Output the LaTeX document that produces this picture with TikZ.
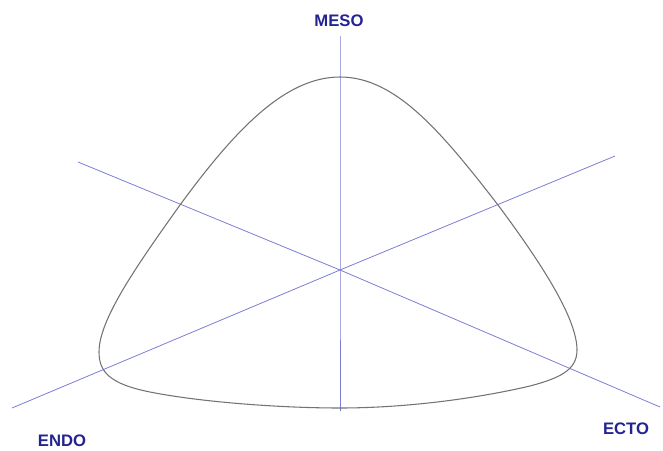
\documentclass[tikz,border=0pt]{standalone}
\usepackage{fontspec}
\setmainfont{Liberation Sans}
\usetikzlibrary{positioning}
\definecolor{axisblue}{RGB}{125,125,215}
\definecolor{labelblue}{RGB}{35,35,145}
\definecolor{curvegray}{RGB}{115,115,115}

\begin{document}
\begin{tikzpicture}[x=0.75pt, y=-0.75pt,
  axis/.style={draw=axisblue, line width=0.6pt},
  germ/.style={font=\fontsize{12.5}{15}\selectfont\bfseries, text=labelblue,
               inner sep=0pt},
  every node/.style={inner sep=2pt}
]
\useasboundingbox (0,0) rectangle (663,450);

% Axis ends
\coordinate (center) at (340,270);
\coordinate (mesoTop) at (340,36);
\coordinate (mesoBot) at (340,411);
\coordinate (endoEnd) at (12,408);
\coordinate (endoOpp) at (615,156);
\coordinate (ectoEnd) at (660,407);
\coordinate (ectoOpp) at (78,162);

% Axes
\draw[axis] (mesoTop) -- (center) -- (mesoBot);
\draw[axis] (endoEnd) -- (center) -- (endoOpp);
\draw[axis] (ectoOpp) -- (center) -- (ectoEnd);

% Labels
\node[germ] (meso) at (339,21) {MESO};
\node[germ] (endo) at (62,441) {ENDO};
\node[germ] (ecto) at (626,429) {ECTO};

% Boundary curve
\draw[curvegray, line width=0.8pt]
  (340,77) .. controls (395,77) and (440,130) .. (498,205)
  .. controls (545,268) and (577,320) .. (577,350)
  .. controls (577,370) and (560,378) .. (530,386)
  .. controls (470,400) and (400,408) .. (340,408)
  .. controls (280,408) and (200,402) .. (150,392)
  .. controls (110,384) and (99,372) .. (99,352)
  .. controls (99,320) and (135,268) .. (180,205)
  .. controls (235,130) and (285,77) .. cycle;
\end{tikzpicture}
\end{document}
